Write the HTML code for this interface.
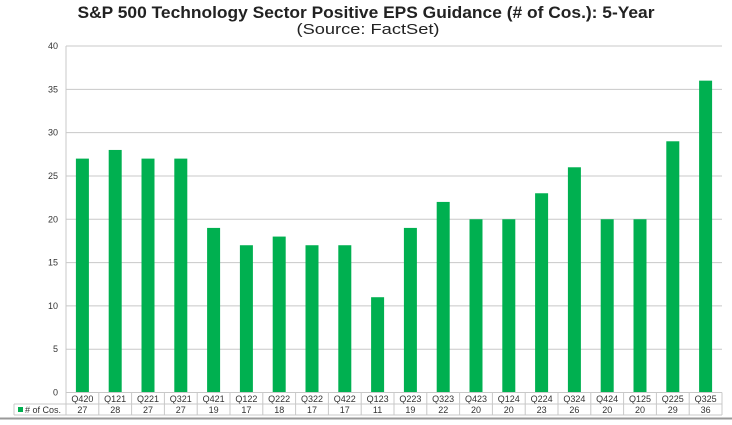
<!DOCTYPE html><html><head><style>body{margin:0;background:#fff}svg text{font-family:"Liberation Sans",Arial,sans-serif}</style></head><body>
<svg width="732" height="420" viewBox="0 0 732 420" xmlns="http://www.w3.org/2000/svg">
<text x="366" y="18" text-anchor="middle" font-size="17" font-weight="bold" fill="#222" textLength="577" lengthAdjust="spacingAndGlyphs">S&amp;P 500 Technology Sector Positive EPS Guidance (# of Cos.): 5-Year</text>
<text x="368" y="34" text-anchor="middle" font-size="15" fill="#222" textLength="143" lengthAdjust="spacingAndGlyphs">(Source: FactSet)</text>
<g id="g"></g>
<line x1="0" y1="418.5" x2="732" y2="418.5" stroke="#999" stroke-width="2"/>
</svg>
<script>
const d=[27,28,27,27,19,17,18,17,17,11,19,22,20,20,23,26,20,20,29,36];
const l=["Q420","Q121","Q221","Q321","Q421","Q122","Q222","Q322","Q422","Q123","Q223","Q323","Q423","Q124","Q224","Q324","Q424","Q125","Q225","Q325"];
const L=66,R=722,T=46,B=392.5,w=(R-L)/20;let s="";
for(let v=0;v<=40;v+=5){const y=B-(B-T)*v/40;s+=`<line x1="${L}" y1="${y}" x2="${R}" y2="${y}" stroke="#c8c8c8" stroke-width="1"/><text x="${L-8}" y="${y+3}" text-anchor="end" font-size="9" fill="#333">${v}</text>`;}
s+=`<line x1="${L}" y1="${T}" x2="${L}" y2="${B}" stroke="#c8c8c8"/>`;
d.forEach((v,i)=>{const c=L+w*(i+.5),h=(B-T)*v/40;s+=`<rect x="${c-6.5}" y="${B-h}" width="13" height="${h}" fill="#00b050"/><text x="${c}" y="402" text-anchor="middle" font-size="9" fill="#333">${l[i]}</text><text x="${c}" y="413" text-anchor="middle" font-size="9" fill="#333">${v}</text><line x1="${L+w*i}" y1="${B}" x2="${L+w*i}" y2="415" stroke="#c8c8c8"/>`;});
s+=`<line x1="${R}" y1="${B}" x2="${R}" y2="415" stroke="#c8c8c8"/><line x1="${L}" y1="${B}" x2="${R}" y2="${B}" stroke="#c8c8c8"/><line x1="14" y1="404" x2="${R}" y2="404" stroke="#c8c8c8"/><line x1="14" y1="415" x2="${R}" y2="415" stroke="#c8c8c8"/><line x1="14" y1="404" x2="14" y2="415" stroke="#c8c8c8"/><rect x="18" y="407" width="5" height="5" fill="#00b050"/><text x="25" y="413" font-size="9" fill="#333"># of Cos.</text>`;
document.getElementById("g").innerHTML=s;
</script></body></html>
